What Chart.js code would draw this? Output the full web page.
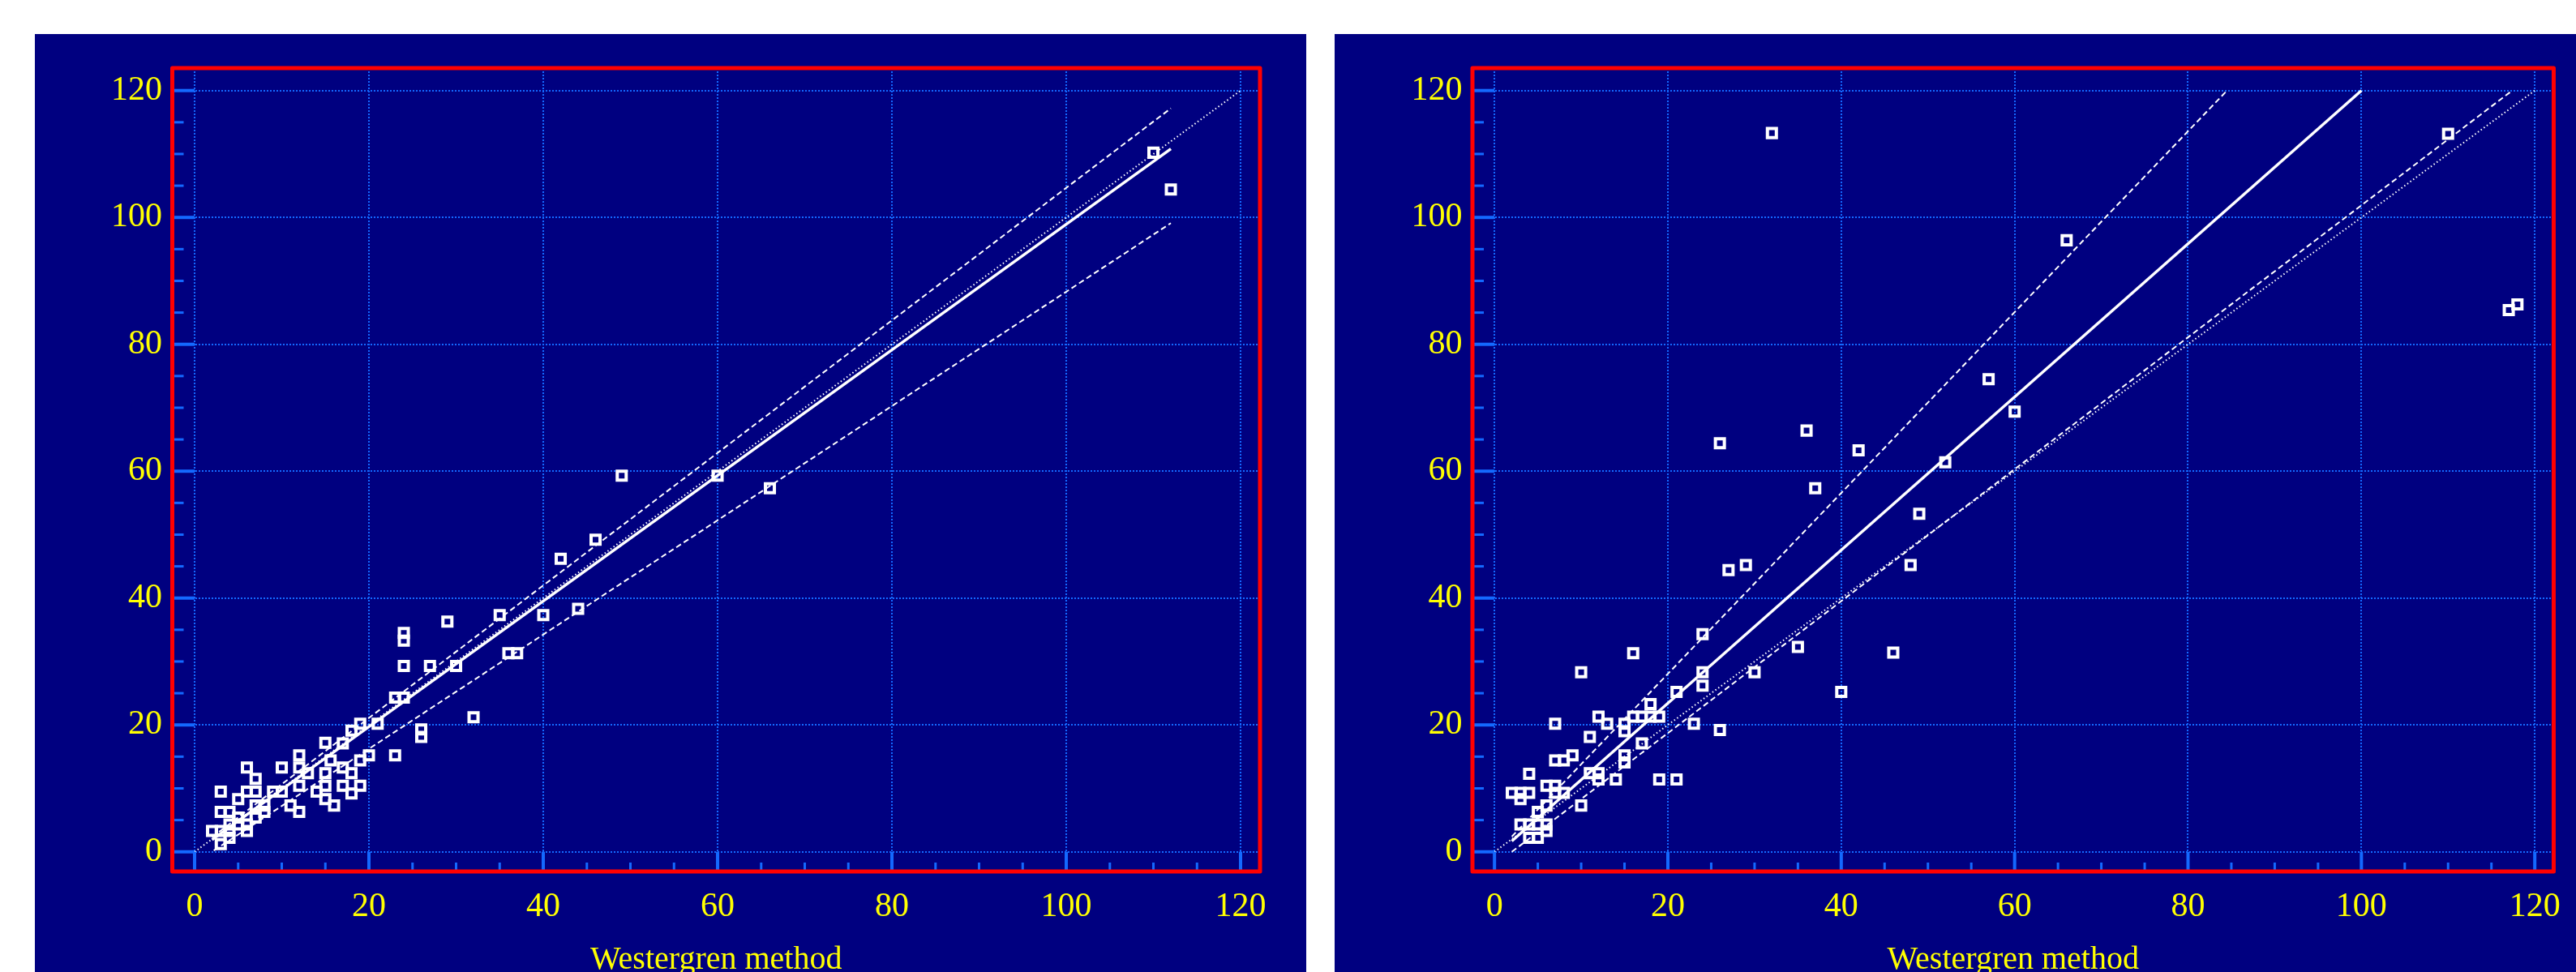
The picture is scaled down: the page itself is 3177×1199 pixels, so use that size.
<!DOCTYPE html>
<html><head><meta charset="utf-8">
<script src="https://cdn.jsdelivr.net/npm/chart.js@4/dist/chart.umd.min.js"></script>
<style>
html,body{margin:0;padding:0;background:#fff;width:3177px;height:1199px;overflow:hidden;position:relative}
.panel{position:absolute;top:42px;background:#000080;height:1157px;overflow:hidden}
#pl{left:43px;width:1568px}
#pr{left:1646px;width:1531px}
canvas{position:absolute;left:0;top:0}
</style></head><body>
<div class="panel" id="pl"><canvas id="cl" width="1568" height="1200"></canvas></div>
<div class="panel" id="pr"><canvas id="cr" width="1531" height="1200"></canvas></div>
<script>
// ---------- data ----------
const xTitle = "Westergren method";
const majorTicks = [0, 20, 40, 60, 80, 100, 120];
const minorTicks = [5, 10, 15, 25, 30, 35, 45, 50, 55, 65, 70, 75, 85, 90, 95, 105, 110, 115];

// left panel points
const leftX = [35,29,24,24,24,27,30,36,37,23,24,32,21,19,18,26,26,15,17,12,20,23,15.6,19,6,10,12,17,13,15,18,7,12,15,17,19,3,6,7,9,10,14,18,5,15,7,8,11,16,3,4,8,12,5,7,4,5,6,2,3,4,6,4,3,40,44,42,46,49,60,66,110,112];
const leftY = [37.3,36.3,34.5,33.3,29.3,29.3,29.3,31.3,31.3,24.3,24.3,21.2,20.2,20.2,19.1,19.3,18.1,17.2,17.1,15.2,15.2,15.2,14.4,14.4,13.3,13.3,13.3,13.3,12.4,12.4,12.4,11.5,10.4,10.4,10.4,10.4,9.5,9.5,9.5,9.5,9.5,9.5,9.2,8.3,8.3,7.3,7.3,7.3,7.3,6.3,6.3,6.3,6.3,5.4,5.4,4.3,4.3,4.3,3.3,3.3,3.3,3.3,2.2,1.2,37.3,38.3,46.2,49.2,59.3,59.3,57.3,110.2,104.4];
// left panel lines (endpoints)
const leftFitX = [2, 112],   leftFitY = [1.9, 110.8];
const leftUpX = [2, 112],    leftUpY = [2.3, 117.2];
const leftLoX = [2.2, 112],  leftLoY = [0.2, 99.1];
const leftIdX = [0, 120],    leftIdY = [0, 120];

// right panel points
const rightX = [24,16,10,24,24,30,35,40,21,18,12,16,17,18,19,13,15,15,7,23,26,11,17,9,7,8,15,15,4,11,12,12,14,19,21,6,7,2,3,4,7,8,3,10,6,5,3,4,5,6,6,4,5,32,57,60,36,26,42,52,37,49,27,29,48,66,46,110,117,118];
const rightY = [34.3,31.3,28.3,28.3,26.2,28.3,32.3,25.2,25.2,23.3,21.3,21.3,21.3,21.3,21.3,20.2,20.2,19,20.2,20.2,19.2,18.1,17.1,15.2,14.4,14.4,15.2,14.1,12.3,12.4,12.4,11.4,11.4,11.4,11.4,10.4,10.4,9.3,9.3,9.3,9.3,9.3,8.3,7.3,7.3,6.3,4.3,4.3,4.3,4.3,3.3,2.2,2.2,113.3,74.5,69.4,66.4,64.4,63.3,61.4,57.3,53.3,44.4,45.2,45.2,96.4,31.4,113.2,85.4,86.3];
const rightFitX = [2, 100],  rightFitY = [1.7, 120];
const rightUpX = [2, 84.5],  rightUpY = [2.4, 120];
const rightLoX = [2, 117.4], rightLoY = [0, 120];
const rightIdX = [0, 120],   rightIdY = [0, 120];

// ---------- styling ----------
const SERIF = "'Liberation Serif','Times New Roman',serif";
const YELLOW = '#ffff00';
const BLUE = '#1469ff';
const zip = (xs, ys) => xs.map((x, i) => ({x: x, y: ys[i]}));

const frameTicks = {
  id: 'frameTicks',
  afterDraw(chart) {
    const ctx = chart.ctx, a = chart.chartArea, sx = chart.scales.x, sy = chart.scales.y;
    const x0 = sx.getPixelForValue(0), y0 = sy.getPixelForValue(0);
    ctx.save();
    ctx.strokeStyle = BLUE;
    ctx.lineCap = 'butt';
    const seg = (x1, y1, x2, y2) => { ctx.beginPath(); ctx.moveTo(x1, y1); ctx.lineTo(x2, y2); ctx.stroke(); };
    ctx.lineWidth = 4;
    majorTicks.forEach(v => { const p = sy.getPixelForValue(v); seg(a.left, p, x0, p); });
    majorTicks.forEach(v => { const p = sx.getPixelForValue(v); seg(p, a.bottom, p, y0); });
    ctx.lineWidth = 3;
    minorTicks.forEach(v => { const p = sy.getPixelForValue(v); seg(a.left, p, a.left + 14, p); });
    minorTicks.forEach(v => { const p = sx.getPixelForValue(v); seg(p, a.bottom, p, a.bottom - 11); });
    ctx.strokeStyle = '#ff0000';
    ctx.lineWidth = 5;
    ctx.lineJoin = 'round';
    ctx.strokeRect(a.left, a.top, a.right - a.left, a.bottom - a.top);
    ctx.restore();
  }
};

function lineDs(xs, ys, w, dash) {
  return {data: zip(xs, ys), showLine: true, borderColor: '#ffffff', borderWidth: w,
          borderDash: dash, pointRadius: 0, fill: false, tension: 0, borderCapStyle: 'butt'};
}

function makeChart(id, xs, ys, lines, geo) {
  const datasets = [{
    data: zip(xs, ys), showLine: false, pointStyle: 'rect', pointRadius: 7.8,
    borderColor: '#ffffff', backgroundColor: 'rgba(0,0,0,0)', pointBorderWidth: 4, borderWidth: 4
  }].concat(lines);
  return new Chart(document.getElementById(id), {
    type: 'scatter',
    data: {datasets: datasets},
    options: {
      responsive: false, animation: false, devicePixelRatio: 1, events: [],
      layout: {padding: {left: 0, top: geo.top, right: geo.right, bottom: 0}},
      plugins: {legend: {display: false}, tooltip: {enabled: false}},
      scales: {
        x: {
          type: 'linear', min: geo.xmin, max: geo.xmax,
          afterBuildTicks: s => { s.ticks = majorTicks.map(v => ({value: v})); },
          afterFit: s => { s.height = geo.xAxisH; },
          grid: {color: BLUE, lineWidth: 2, drawTicks: false},
          border: {display: false, dash: [2, 2]},
          ticks: {color: YELLOW, font: {family: SERIF, size: 42}, padding: 19, maxRotation: 0, autoSkip: false},
          title: {display: true, text: xTitle, color: YELLOW, font: {family: SERIF, size: 40}, padding: {top: 0, bottom: 34}}
        },
        y: {
          type: 'linear', min: geo.ymin, max: geo.ymax,
          afterBuildTicks: s => { s.ticks = majorTicks.map(v => ({value: v})); },
          afterFit: s => { s.width = geo.yAxisW; },
          grid: {color: BLUE, lineWidth: 2, drawTicks: false},
          border: {display: false, dash: [2, 2]},
          ticks: {color: YELLOW, font: {family: SERIF, size: 42}, padding: 12.5, autoSkip: false}
        }
      }
    },
    plugins: [frameTicks]
  });
}

const solidW = 3.5, bandW = 2, idW = 2;
makeChart('cl', leftX, leftY, [
  lineDs(leftFitX, leftFitY, solidW, []),
  lineDs(leftUpX, leftUpY, bandW, [7, 4]),
  lineDs(leftLoX, leftLoY, bandW, [7, 4]),
  lineDs(leftIdX, leftIdY, idW, [1.5, 3])
], {top: 42, right: 57, yAxisW: 169.5, xAxisH: 167, xmin: -2.56, xmax: 122.23, ymin: -3.1, ymax: 123.54});

makeChart('cr', rightX, rightY, [
  lineDs(rightFitX, rightFitY, solidW, []),
  lineDs(rightUpX, rightUpY, bandW, [7, 4]),
  lineDs(rightLoX, rightLoY, bandW, [7, 4]),
  lineDs(rightIdX, rightIdY, idW, [1.5, 3])
], {top: 42, right: 19, yAxisW: 170, xAxisH: 167, xmin: -2.54, xmax: 122.18, ymin: -3.1, ymax: 123.54});
</script>
</body></html>
